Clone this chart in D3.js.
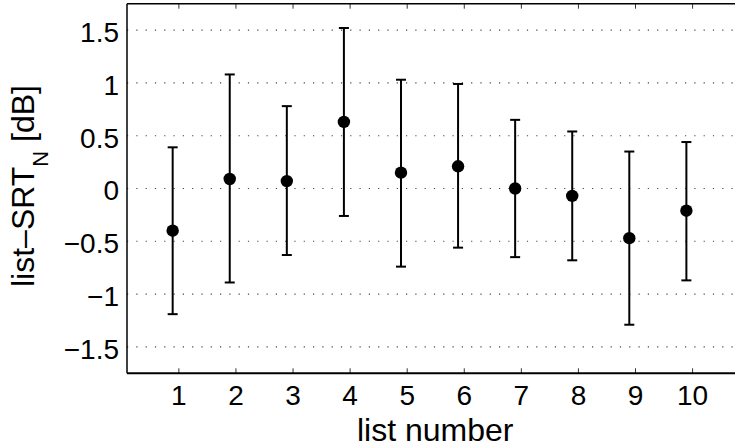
<!DOCTYPE html>
<html>
<head>
<meta charset="utf-8">
<script src="https://cdn.jsdelivr.net/npm/d3@7"></script>
<style>
  html, body { margin: 0; padding: 0; background: #fff; }
  svg { display: block; }
  text { font-family: "Liberation Sans", Arial, Helvetica, sans-serif; fill: #000; }
</style>
</head>
<body>
<svg id="chart" width="735" height="448"></svg>
<script>
// ---- data ----
const listNumbers = [1, 2, 3, 4, 5, 6, 7, 8, 9, 10];
const meanSRT  = [-0.40, 0.09, 0.07, 0.63, 0.15, 0.21, 0.00, -0.07, -0.47, -0.21];
const upperSRT = [0.39, 1.08, 0.78, 1.52, 1.03, 0.99, 0.65, 0.54, 0.35, 0.44];
const lowerSRT = [-1.19, -0.89, -0.63, -0.26, -0.74, -0.56, -0.65, -0.68, -1.29, -0.87];
const xTicks = [1, 2, 3, 4, 5, 6, 7, 8, 9, 10];
const yTicks = [-1.5, -1, -0.5, 0, 0.5, 1, 1.5];
const yTickLabels = ["\u22121.5", "\u22121", "\u22120.5", "0", "0.5", "1", "1.5"];
const xLabel = "list number";

// ---- layout ----
const pL = 127, pT = 3.7, pB = 373.3;
const unit = 57.08;
const xOffset = -0.1;
const svg = d3.select("#chart");
const x = d3.scaleLinear().domain([0.1, 10.9]).range([pL, pL + 10.8 * unit]);
const y = d3.scaleLinear().domain([-1.75, 1.75]).range([pB, pT]);
const pR = x(10.9);
const tickFont = "28px";
const labelFont = "32px";

// grid
svg.append("g").selectAll("line").data(yTicks).join("line")
  .attr("x1", pL).attr("x2", pR)
  .attr("y1", d => y(d)).attr("y2", d => y(d))
  .attr("stroke", "#444").attr("stroke-width", 1.1)
  .attr("stroke-dasharray", "1.2,8.1");

// axes
const xAxisB = d3.axisBottom(x).tickValues(xTicks).tickSize(-5).tickPadding(12)
  .tickFormat(d3.format("d"));
const gB = svg.append("g").attr("transform", `translate(0,${pB})`).call(xAxisB);
gB.attr("font-family", null).attr("font-size", null);
gB.select(".domain").remove();
gB.selectAll(".tick line").attr("stroke", "#333").attr("stroke-width", 1);
gB.selectAll(".tick text").style("font-size", tickFont).attr("fill", "#000");

const xAxisT = d3.axisTop(x).tickValues(xTicks).tickSize(-5).tickFormat("");
const gT = svg.append("g").attr("transform", `translate(0,${pT})`).call(xAxisT);
gT.select(".domain").remove();
gT.selectAll(".tick line").attr("stroke", "#333").attr("stroke-width", 1);

const yAxis = d3.axisLeft(y).tickValues(yTicks).tickSize(0).tickPadding(8)
  .tickFormat((d, i) => yTickLabels[i]);
const gL = svg.append("g").attr("transform", `translate(${pL},0)`).call(yAxis);
gL.attr("font-family", null).attr("font-size", null);
gL.select(".domain").remove();
gL.selectAll(".tick text").style("font-size", tickFont).attr("fill", "#000").attr("dy", "0.41em");

// box lines
svg.append("line").attr("x1", pL).attr("x2", pR).attr("y1", pB).attr("y2", pB)
  .attr("stroke", "#000").attr("stroke-width", 2);
svg.append("line").attr("x1", pL).attr("x2", pR).attr("y1", pT).attr("y2", pT)
  .attr("stroke", "#000").attr("stroke-width", 1.5);
svg.append("line").attr("x1", pL).attr("x2", pL).attr("y1", pT).attr("y2", pB)
  .attr("stroke", "#000").attr("stroke-width", 1.5);

// error bars
const pts = listNumbers.map((n, i) => ({ n, m: meanSRT[i], lo: lowerSRT[i], hi: upperSRT[i] }));
const g = svg.append("g");
const capW = 5;
g.selectAll("line.v").data(pts).join("line").attr("class", "v")
  .attr("x1", d => x(d.n + xOffset)).attr("x2", d => x(d.n + xOffset))
  .attr("y1", d => y(d.lo)).attr("y2", d => y(d.hi))
  .attr("stroke", "#000").attr("stroke-width", 2);
g.selectAll("line.ch").data(pts).join("line").attr("class", "ch")
  .attr("x1", d => x(d.n + xOffset) - capW).attr("x2", d => x(d.n + xOffset) + capW)
  .attr("y1", d => y(d.hi)).attr("y2", d => y(d.hi))
  .attr("stroke", "#000").attr("stroke-width", 2);
g.selectAll("line.cl").data(pts).join("line").attr("class", "cl")
  .attr("x1", d => x(d.n + xOffset) - capW).attr("x2", d => x(d.n + xOffset) + capW)
  .attr("y1", d => y(d.lo)).attr("y2", d => y(d.lo))
  .attr("stroke", "#000").attr("stroke-width", 2);
g.selectAll("circle").data(pts).join("circle")
  .attr("cx", d => x(d.n + xOffset)).attr("cy", d => y(d.m)).attr("r", 6.2)
  .attr("fill", "#000");

// labels
svg.append("text").attr("x", (pL + pR) / 2).attr("y", 440.5)
  .attr("text-anchor", "middle").style("font-size", labelFont).text(xLabel);

const yl = svg.append("text")
  .attr("transform", `translate(34,186) rotate(-90)`)
  .attr("text-anchor", "middle").style("font-size", labelFont);
yl.append("tspan").text("list\u2013SRT");
yl.append("tspan").attr("dy", 14).style("font-size", "22px").text("N");
yl.append("tspan").attr("dy", -14).text(" [dB]");
</script>
</body>
</html>
